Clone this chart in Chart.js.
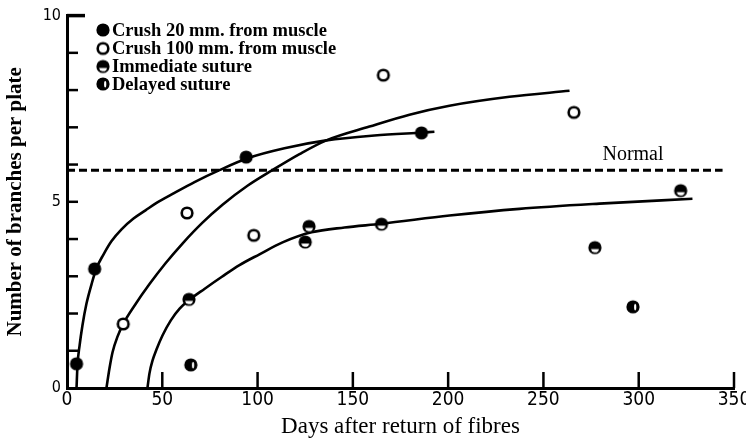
<!DOCTYPE html>
<html>
<head>
<meta charset="utf-8">
<script src="https://cdn.jsdelivr.net/npm/chart.js@4.4.1/dist/chart.umd.min.js"></script>
<style>
  html, body { margin: 0; padding: 0; background: #fff; }
  #wrap { width: 746px; height: 441px; position: relative; }
</style>
</head>
<body>
<div id="wrap"><canvas id="branches"></canvas></div>
<script>
// -----------------------------
// Data (days, branches per plate)
// -----------------------------
const crush20Days = [5, 14.5, 94, 186];
const crush20Vals = [0.65, 3.2, 6.2, 6.85];

const crush100Days = [29.5, 63, 98, 166, 266];
const crush100Vals = [1.72, 4.7, 4.1, 8.4, 7.4];

const immediateDays = [64, 127, 125, 165, 277, 322];
const immediateVals = [2.38, 4.34, 3.92, 4.4, 3.77, 5.3];

const delayedDays = [65, 297];
const delayedVals = [0.62, 2.18];

// fitted curves
const curve20Days = [5.0, 5.5, 6.6, 8.1, 10.2, 12.9, 15.5, 19.2, 23.3, 28.6, 34.9, 41.2, 47.0, 56.4, 66.9, 80.0, 94.7, 114.1, 136.1, 161.3, 186.5, 192.8];
const curve20Vals = [0, 0.61, 1.14, 1.68, 2.26, 2.79, 3.22, 3.59, 3.94, 4.26, 4.55, 4.77, 4.97, 5.24, 5.53, 5.85, 6.17, 6.44, 6.65, 6.78, 6.86, 6.88];

const curve100Days = [20.7, 22.3, 23.9, 26.5, 29.6, 35.4, 43.3, 51.7, 60.6, 71.1, 81.6, 94.7, 107.8, 122.0, 136.1, 158.7, 179.7, 200.7, 232.2, 263.7];
const curve100Vals = [0, 0.53, 0.96, 1.38, 1.73, 2.21, 2.79, 3.35, 3.88, 4.44, 4.92, 5.43, 5.85, 6.28, 6.65, 7.02, 7.34, 7.58, 7.82, 7.98];

const curveSutureDays = [42.2, 43.3, 44.9, 47.0, 50.1, 54.4, 59.1, 64.3, 72.1, 81.1, 90.5, 101.0, 113.1, 128.3, 145.6, 165.0, 200.7, 237.4, 279.4, 328.2];
const curveSutureVals = [0, 0.40, 0.74, 1.04, 1.41, 1.81, 2.13, 2.37, 2.66, 2.98, 3.30, 3.59, 3.91, 4.18, 4.31, 4.41, 4.63, 4.81, 4.95, 5.08];

const normalDays = [0, 344];
const normalVals = [5.85, 5.85];

const legendLabels = ['Crush 20 mm. from muscle', 'Crush 100 mm. from muscle', 'Immediate suture', 'Delayed suture'];

const serif = "'Liberation Serif', 'DejaVu Serif', serif";
const narrow = "'Liberation Sans Narrow', 'DejaVu Sans Condensed', 'Liberation Sans', sans-serif";

function pts(xs, ys) {
    return xs.map((x, i) => ({ x: x, y: ys[i] }));
}

// -----------------------------
// Marker images
// -----------------------------
function makeMarker(kind) {
    const c = document.createElement('canvas');
    c.width = 16; c.height = 16;
    const g = c.getContext('2d');
    const cx = 8, cy = 8;
    g.fillStyle = '#000';
    g.beginPath(); g.arc(cx, cy, 6.6, 0, Math.PI * 2); g.fill();
    g.fillStyle = '#fff';
    if (kind === 'open') {
        g.beginPath(); g.arc(cx, cy, 4.0, 0, Math.PI * 2); g.fill();
    } else if (kind === 'immediate') {
        g.beginPath(); g.arc(cx, cy + 0.8, 4.0, 0.15, Math.PI - 0.15); g.closePath(); g.fill();
    } else if (kind === 'delayed') {
        g.beginPath(); g.ellipse(cx + 2.2, cy + 0.3, 1.1, 3.2, 0, 0, Math.PI * 2); g.fill();
    }
    return c;
}
const markers = {
    filled: makeMarker('filled'),
    open: makeMarker('open'),
    immediate: makeMarker('immediate'),
    delayed: makeMarker('delayed')
};

function curveSet(xs, ys) {
    return {
        type: 'line',
        data: pts(xs, ys),
        borderColor: '#000',
        borderWidth: 2.6,
        pointRadius: 0,
        cubicInterpolationMode: 'monotone',
        fill: false,
        order: 5
    };
}
function pointSet(xs, ys, img) {
    return {
        type: 'scatter',
        data: pts(xs, ys),
        pointStyle: img,
        pointRadius: 7,
        order: 1
    };
}

// -----------------------------
// Inward ticks, legend and "Normal" label
// -----------------------------
const decorPlugin = {
    id: 'decor',
    afterDraw(chart) {
        const ctx = chart.ctx;
        const xs = chart.scales.x, ys = chart.scales.y;
        const area = chart.chartArea;
        ctx.save();
        ctx.strokeStyle = '#000';
        ctx.lineWidth = 2.5;
        xs.ticks.forEach(t => {
            if (t.value === 0) return;
            const px = xs.getPixelForValue(t.value);
            ctx.beginPath(); ctx.moveTo(px, area.bottom); ctx.lineTo(px, area.bottom - 16); ctx.stroke();
        });
        ys.ticks.forEach(t => {
            if (t.value === 0) return;
            const py = ys.getPixelForValue(t.value);
            const len = t.value === 10 ? 18 : 11;
            ctx.lineWidth = t.value === 10 ? 3.5 : 2.5;
            ctx.beginPath(); ctx.moveTo(area.left, py); ctx.lineTo(area.left + len, py); ctx.stroke();
        });

        // legend
        const imgs = [markers.filled, markers.open, markers.immediate, markers.delayed];
        const rows = [30, 48.5, 66.5, 84];
        ctx.fillStyle = '#000';
        ctx.font = 'bold 18.5px ' + serif;
        ctx.textBaseline = 'middle';
        ctx.textAlign = 'left';
        rows.forEach((y, i) => {
            ctx.drawImage(imgs[i], 103 - 8, y - 8);
            ctx.fillText(legendLabels[i], 112, y + 1);
        });

        // Normal label
        ctx.font = '20px ' + serif;
        ctx.textAlign = 'center';
        ctx.fillText('Normal', xs.getPixelForValue(297), ys.getPixelForValue(6.27));
        ctx.restore();
    }
};

new Chart(document.getElementById('branches'), {
    data: {
        datasets: [
            pointSet(crush20Days, crush20Vals, markers.filled),
            pointSet(crush100Days, crush100Vals, markers.open),
            pointSet(immediateDays, immediateVals, markers.immediate),
            pointSet(delayedDays, delayedVals, markers.delayed),
            curveSet(curve20Days, curve20Vals),
            curveSet(curve100Days, curve100Vals),
            curveSet(curveSutureDays, curveSutureVals),
            {
                type: 'line',
                data: pts(normalDays, normalVals),
                borderColor: '#000',
                borderWidth: 3,
                borderDash: [8, 4],
                pointRadius: 0,
                order: 6
            }
        ]
    },
    options: {
        responsive: true,
        maintainAspectRatio: false,
        animation: false,
        layout: { padding: { top: 12, right: 0, left: 0, bottom: 0 } },
        plugins: { legend: { display: false }, tooltip: { enabled: false } },
        scales: {
            x: {
                type: 'linear',
                min: 0, max: 350,
                afterFit: s => { s.height = 53; s.paddingRight = 12; s.paddingLeft = 0; },
                grid: { display: false, drawTicks: false },
                border: { display: true, width: 3, color: '#000' },
                ticks: { stepSize: 50, padding: 1, color: '#000', font: { family: narrow, size: 19 } },
                title: {
                    display: true, text: 'Days after return of fibres', color: '#000',
                    font: { family: serif, size: 23 }, padding: { top: 0, bottom: 0 }
                }
            },
            y: {
                type: 'linear',
                min: 0, max: 10,
                afterFit: s => { s.width = 67; },
                grid: { display: false, drawTicks: false },
                border: { display: true, width: 3, color: '#000' },
                ticks: {
                    stepSize: 1, autoSkip: false, padding: 6, color: '#000',
                    font: { family: narrow, size: 16 },
                    callback: v => (v % 5 === 0 ? v : '')
                },
                title: {
                    display: true, text: 'Number of branches per plate', color: '#000',
                    font: { family: serif, size: 21, weight: 'bold' }, padding: { top: 3, bottom: 0 }
                }
            }
        }
    },
    plugins: [decorPlugin]
});
</script>
</body>
</html>
